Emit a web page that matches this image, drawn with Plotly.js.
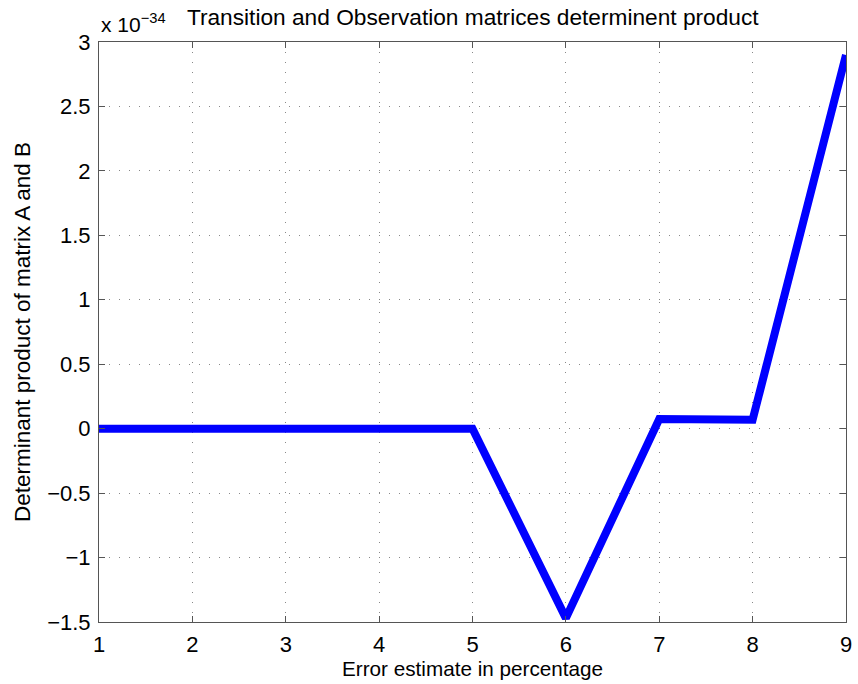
<!DOCTYPE html>
<html>
<head>
<meta charset="utf-8">
<script src="https://cdn.plot.ly/plotly-3.0.1.min.js"></script>
<style>html,body{margin:0;padding:0;background:#fff;}#chart{width:858px;height:684px;}</style>
</head>
<body>
<div id="chart"></div>
<script>
const errorPct = [1, 2, 3, 4, 5, 6, 7, 8, 9];
const detProduct = [0, 0, 0, 0, 0, -1.47, 0.075, 0.07, 2.9]; // x 1e-34
const xTicks = [1, 2, 3, 4, 5, 6, 7, 8, 9];
const yTicks = [-1.5, -1, -0.5, 0, 0.5, 1, 1.5, 2, 2.5, 3];
const yTickLabels = ['\u22121.5', '\u22121', '\u22120.5', '0', '0.5', '1', '1.5', '2', '2.5', '3'];

const font = {family: 'Liberation Sans, Arial, sans-serif', color: '#000'};
const axisCommon = {
  showline: true, mirror: 'ticks', linecolor: '#555', linewidth: 1,
  ticks: 'inside', ticklen: 6, tickcolor: '#555',
  showgrid: true, gridcolor: '#888', griddash: '1px,9px', gridwidth: 1,
  zeroline: false, tickfont: Object.assign({size: 22}, font), ticklabelstandoff: 3
};
const layout = {
  width: 858, height: 684,
  margin: {l: 99, r: 12, t: 42, b: 62},
  paper_bgcolor: '#fff', plot_bgcolor: '#fff',
  showlegend: false,
  title: {text: 'Transition and Observation matrices determinent product', font: Object.assign({size: 22.7}, font), x: 0.551, xanchor: 'center', y: 0.975, yanchor: 'middle'},
  xaxis: Object.assign({}, axisCommon, {range: [1, 9], tickvals: xTicks, ticktext: xTicks.map(String),
    title: {text: 'Error estimate in percentage', font: Object.assign({size: 20.7}, font), standoff: 3}}),
  yaxis: Object.assign({}, axisCommon, {range: [-1.5, 3], tickvals: yTicks, ticktext: yTickLabels,
    title: {text: 'Determinant product of matrix A and B', font: Object.assign({size: 22.5}, font), standoff: 10}}),
  annotations: [{xref: 'paper', yref: 'paper', x: 0, y: 1, xanchor: 'left', yanchor: 'bottom', yshift: 4,
    text: 'x 10<sup>\u221234</sup>', showarrow: false, font: Object.assign({size: 21}, font)}]
};
Plotly.newPlot('chart', [{x: errorPct, y: detProduct, type: 'scatter', mode: 'lines',
  line: {color: '#0000ff', width: 8}}], layout, {displayModeBar: false, staticPlot: true});
</script>
</body>
</html>
